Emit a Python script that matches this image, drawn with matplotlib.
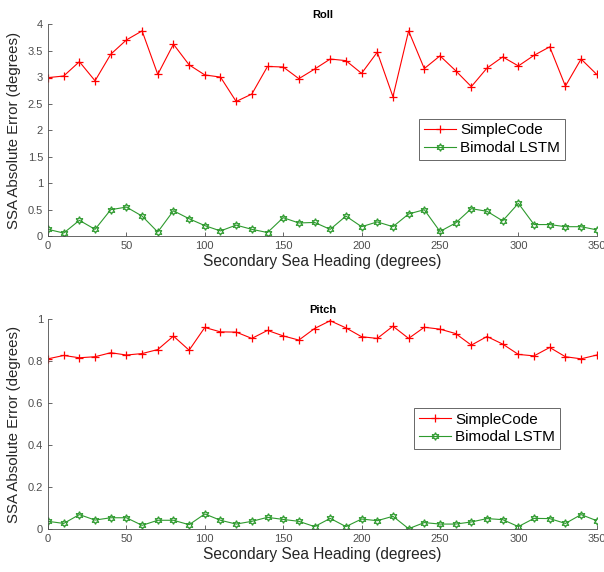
import matplotlib
matplotlib.use("Agg")
import matplotlib.pyplot as plt
import numpy as np

plt.rcParams["font.family"] = ["Liberation Sans", "DejaVu Sans"]

heading = list(range(0, 360, 10))

roll_simple = [2.99, 3.02, 3.29, 2.93, 3.43, 3.70, 3.87, 3.05, 3.62, 3.23,
               3.04, 3.00, 2.54, 2.68, 3.20, 3.19, 2.97, 3.15, 3.34, 3.31,
               3.07, 3.47, 2.63, 3.87, 3.16, 3.40, 3.12, 2.82, 3.17, 3.38,
               3.21, 3.41, 3.57, 2.83, 3.34, 3.05]
roll_lstm = [0.13, 0.06, 0.30, 0.13, 0.50, 0.55, 0.38, 0.08, 0.48, 0.33,
             0.20, 0.10, 0.21, 0.13, 0.07, 0.35, 0.25, 0.26, 0.13, 0.38,
             0.18, 0.27, 0.18, 0.42, 0.50, 0.09, 0.25, 0.52, 0.47, 0.29,
             0.62, 0.22, 0.22, 0.18, 0.18, 0.12]

pitch_simple = [0.810, 0.826, 0.815, 0.820, 0.839, 0.828, 0.835, 0.854, 0.918, 0.851,
                0.959, 0.938, 0.937, 0.907, 0.945, 0.919, 0.899, 0.954, 0.991, 0.957,
                0.915, 0.907, 0.965, 0.907, 0.960, 0.951, 0.930, 0.875, 0.916, 0.880,
                0.831, 0.824, 0.864, 0.820, 0.810, 0.828]
pitch_lstm = [0.038, 0.028, 0.070, 0.044, 0.055, 0.055, 0.019, 0.043, 0.043, 0.022,
              0.073, 0.043, 0.025, 0.038, 0.057, 0.047, 0.038, 0.013, 0.052, 0.013,
              0.049, 0.041, 0.062, 0.003, 0.032, 0.025, 0.025, 0.035, 0.051, 0.046,
              0.013, 0.052, 0.051, 0.028, 0.070, 0.041]

panels = [
    ("Roll", roll_simple, roll_lstm, [0, 4], np.arange(0, 4.01, 0.5),
     [0.0795, 0.587, 0.9085, 0.371], (0.676, 0.458)),
    ("Pitch", pitch_simple, pitch_lstm, [0, 1], np.arange(0, 1.01, 0.2),
     [0.0795, 0.0746, 0.9085, 0.368], (0.667, 0.479)),
]

txt = "#262626"
tick_c = "#4d4d4d"
fig = plt.figure(figsize=(6.04, 5.72), dpi=100)
for title, simple, lstm, ylim, yticks, rect, legpos in panels:
    ax = fig.add_axes(rect)
    ax.plot(heading, simple, color="#ff0000", marker="+", markersize=6,
            markeredgewidth=0.9, linewidth=0.8, label="SimpleCode")
    ax.plot(heading, lstm, color="#2e9a2e", marker=(6, 1, 0), markersize=5.5,
            markerfacecolor="none", markeredgewidth=0.9, linewidth=0.8,
            label="Bimodal LSTM")
    ax.set_xlim(0, 350)
    ax.set_ylim(ylim)
    ax.set_xticks(range(0, 351, 50))
    ax.set_yticks(yticks)
    ax.set_yticklabels([("%g" % v) for v in yticks])
    for s in ("top", "right"):
        ax.spines[s].set_visible(False)
    for s in ("left", "bottom"):
        ax.spines[s].set_color(tick_c)
        ax.spines[s].set_linewidth(0.6)
    ax.tick_params(direction="in", length=3, width=0.6, colors=tick_c,
                   labelsize=8, labelcolor=tick_c)
    ax.set_title(title, fontsize=8, fontweight="bold", color="black", pad=4)
    ax.set_xlabel("Secondary Sea Heading (degrees)", fontsize=11.2, color=txt, labelpad=2)
    ax.set_ylabel("SSA Absolute Error (degrees)", fontsize=10.8, color=txt, labelpad=5)
    leg = ax.legend(loc="center left", bbox_to_anchor=legpos, fontsize=11,
                    frameon=True, fancybox=False, edgecolor="#404040", numpoints=1,
                    borderpad=0.3, handlelength=2.1, handletextpad=0.3,
                    labelspacing=0.25, borderaxespad=0)
    leg.get_frame().set_linewidth(0.7)

fig.savefig("out.png", dpi=100)
